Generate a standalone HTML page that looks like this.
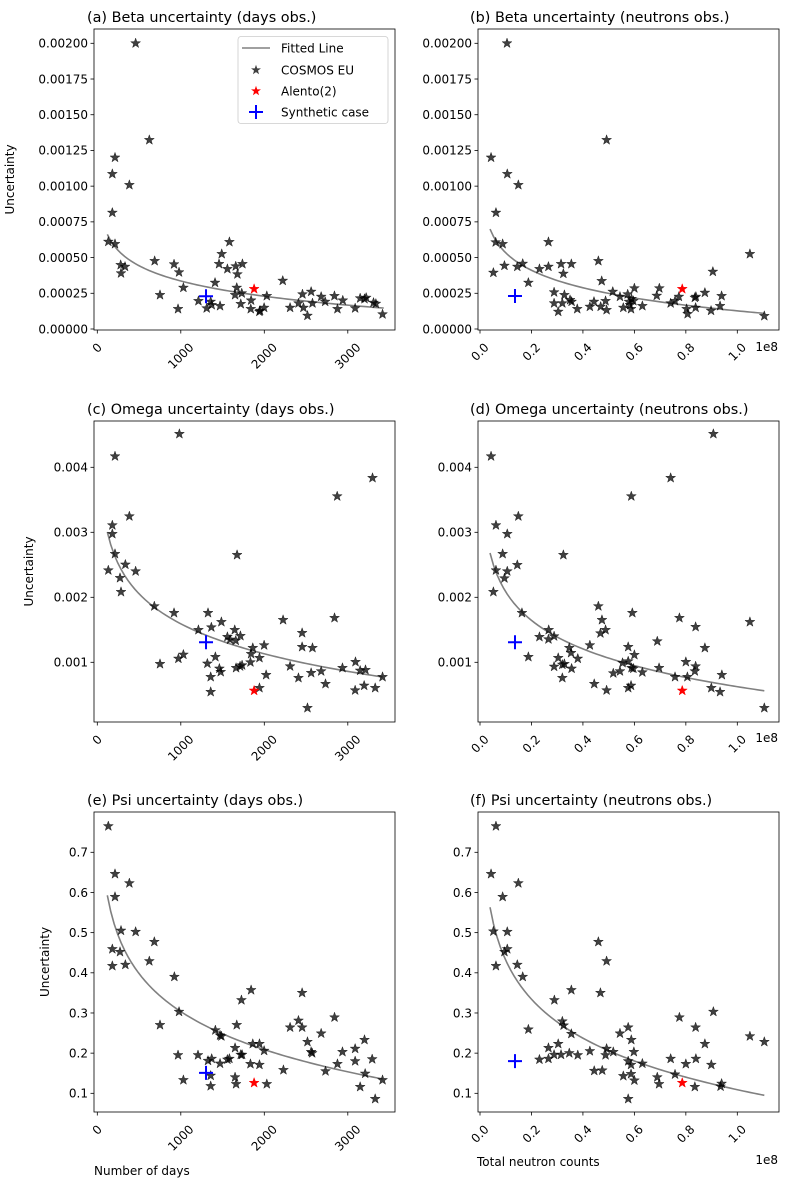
<!DOCTYPE html>
<html><head><meta charset="utf-8">
<style>
html,body{margin:0;padding:0;background:#fff;}
svg{display:block;font-family:"DejaVu Sans","Liberation Sans",sans-serif;}
</style></head>
<body>
<svg id="fig" width="799" height="1186" viewBox="0 0 799 1186"></svg>
<script>
// ---------- DATA ----------
const daysBetaX=[459,623,212,180,384,180,132,212,280,332,284,687,919,979,751,1031,967,1211,1310,1358,1370,1410,1470,1458,1490,1582,1558,1658,1678,1738,1670,1650,1730,1718,1842,1838,1941,1949,1998,2030,2221,2309,2409,2457,2469,2517,2561,2577,2681,2729,2840,2876,2940,3088,3148,3200,3220,3308,3336,3416];
const daysBetaY=[.002,.001323,.0012,.001085,.001008,.000814,.000611,.000595,.000448,.000436,.00039,.000476,.000453,.000397,.000238,.000289,.00014,.000196,.000145,.000191,.000168,.000324,.000161,.000455,.000525,.000609,.00042,.000439,.000383,.000455,.000289,.000238,.00025,.000175,.0002,.00014,.000121,.000128,.000149,.000231,.000338,.000149,.00018,.000243,.000149,.000093,.000261,.00018,.000226,.000191,.000231,.00014,.0002,.000145,.000215,.00021,.000219,.000184,.000177,.000103];
const neutBetaX=[.105,.492,.043,.106,.149,.062,.061,.088,.052,.095,.145,.166,.188,.231,.266,.266,.315,.324,.355,.288,.304,.288,.328,.320,.350,.356,.378,.427,.443,.460,.473,.469,.488,.492,.516,.544,.557,.574,.579,.583,.589,.587,.600,.596,.631,.687,.697,.741,.758,.773,.803,.807,.835,.839,.838,.874,.898,.905,.933,.939,1.049,1.105];
const neutBetaY=[.002,.001323,.0012,.001085,.001008,.000814,.000607,.000595,.000394,.000443,.000436,.000457,.000324,.00042,.000436,.000609,.000455,.000387,.000455,.000257,.000121,.00018,.000238,.00018,.000203,.000191,.00014,.000156,.000191,.000476,.000336,.000156,.000196,.000133,.000261,.000226,.000149,.000243,.000191,.000168,.00021,.00014,.000285,.000196,.000161,.000233,.000285,.00018,.000196,.000226,.00014,.000105,.000219,.000226,.000149,.000254,.000128,.000401,.000161,.000231,.000525,.000091];
const daysOmegaX=[983,212,3296,2873,384,180,180,212,1674,132,336,459,272,284,683,919,1326,1211,1366,1486,1646,1558,1590,1658,1714,2225,2841,2453,2453,2577,1862,1842,1998,1942,1834,1031,971,751,1318,1414,1462,1478,1358,1358,1662,1710,1734,2022,1942,2309,2409,2517,2561,2681,2733,2936,3092,3148,3212,3088,3196,3328,3416];
const daysOmegaY=[.004513,.004169,.003836,.003554,.003246,.003108,.002974,.002667,.002651,.002415,.002503,.0024,.002297,.002082,.001862,.001759,.001759,.001497,.001538,.00162,.001497,.00139,.001349,.001333,.001405,.001651,.001682,.001451,.001236,.001221,.001221,.001128,.001262,.001067,.001,.001118,.001056,.000974,.00098,.001082,.000903,.000851,.000774,.000544,.000913,.000938,.000954,.000805,.000605,.000938,.000759,.000297,.000836,.000862,.000667,.000913,.001005,.000872,.000882,.000569,.000641,.000605,.000774];
const neutOmegaX=[.907,.043,.741,.588,.149,.062,.106,.088,.324,.062,.106,.145,.095,.052,.163,.460,.474,.488,.468,.592,.775,.838,1.049,.267,.231,.266,.288,.427,.689,.576,.600,.874,.188,.347,.354,.380,.304,.288,.320,.328,.356,.320,.554,.576,.589,.596,.518,.544,.631,.696,.800,.838,.835,.758,.806,.940,.444,.492,.576,.587,.899,.933,1.105];
const neutOmegaY=[.004513,.004169,.003836,.003554,.003246,.003108,.002974,.002667,.002651,.002415,.0024,.002497,.002292,.002082,.001759,.001862,.001651,.001497,.001446,.001759,.001682,.001544,.00162,.001497,.00139,.001354,.0014,.001262,.001323,.001236,.001113,.001221,.001082,.001221,.001144,.001056,.001067,.000933,.000964,.000974,.000903,.000759,.00099,.001015,.000913,.000903,.000831,.000862,.000846,.000913,.001005,.000938,.000862,.000774,.000774,.000805,.000667,.000569,.000605,.000641,.000605,.000544,.000297];
const daysPsiX=[132,212,384,212,284,459,180,272,180,336,683,623,923,979,751,1842,1726,2453,1670,1414,1470,1486,1650,1718,1734,1862,1942,1998,1834,1942,967,1206,1326,1370,1470,1558,1582,1358,1358,1031,1650,1662,2030,2229,2309,2409,2453,2517,2561,2573,2681,2841,2733,2876,2936,3088,3200,3088,3292,3208,3148,3328,3416];
const daysPsiY=[.765,.646,.623,.589,.505,.502,.459,.452,.417,.42,.477,.429,.39,.303,.27,.357,.332,.35,.27,.257,.244,.242,.213,.196,.196,.223,.223,.206,.173,.171,.195,.195,.181,.186,.174,.184,.186,.144,.118,.133,.14,.123,.123,.158,.264,.281,.264,.228,.203,.2,.249,.289,.155,.173,.203,.211,.233,.18,.185,.149,.116,.086,.133];
const neutPsiX=[.062,.043,.149,.088,.052,.106,.062,.145,.106,.095,.166,.460,.492,.355,.289,.468,.320,.325,.355,.188,.266,.304,.288,.315,.347,.380,.231,.266,.427,.492,.488,.518,.544,.576,.588,.598,.576,.587,.631,.444,.475,.557,.587,.600,.576,.689,.696,.741,.758,.775,.838,.800,.839,.835,.874,.907,.899,.939,.935,1.049,1.105];
const neutPsiY=[.765,.646,.623,.589,.503,.502,.417,.42,.459,.452,.39,.477,.429,.357,.332,.35,.279,.269,.248,.259,.213,.223,.196,.196,.2,.195,.184,.186,.205,.211,.195,.203,.249,.264,.233,.203,.18,.171,.174,.156,.157,.143,.148,.132,.086,.14,.123,.186,.147,.289,.264,.173,.186,.116,.223,.303,.171,.124,.117,.242,.228];
// Alento(2) and synthetic case: [days, neutrons(1e8)]
const alentoX=[1878,0.786];
const alentoY=[0.00028,0.000564,0.126];
const synthX=[1302,0.136];
const synthY=[0.000229,0.001308,0.151,0.000231,0.001308,0.18];
// fitted line y = A + B*ln(x)
const fitA=[0.001400,0.000127,0.006193,0.000625,1.2464,0.109];
const fitB=[-0.000154,-0.0001765,-0.000666,-0.000634,-0.1365,-0.140];
const fitXmin=[120,0.039,120,0.039,120,0.039];
const fitXmax=[3430,1.105,3416,1.105,3416,1.105];
const titles=["(a) Beta uncertainty (days obs.)","(b) Beta uncertainty (neutrons obs.)","(c) Omega uncertainty (days obs.)","(d) Omega uncertainty (neutrons obs.)","(e) Psi uncertainty (days obs.)","(f) Psi uncertainty (neutrons obs.)"];
const daysTicks=[0,1000,2000,3000];
const neutTicks=[0,0.2,0.4,0.6,0.8,1.0];
const betaTicks=[0,0.00025,0.0005,0.00075,0.001,0.00125,0.0015,0.00175,0.002];
const omegaTicks=[0.001,0.002,0.003,0.004];
const psiTicks=[0.1,0.2,0.3,0.4,0.5,0.6,0.7];

// ---------- LAYOUT ----------
const NS="http://www.w3.org/2000/svg";
const svg=document.getElementById('fig');
function mk(tag,attrs,parent){const e=document.createElementNS(NS,tag);for(const k in attrs)e.setAttribute(k,attrs[k]);(parent||svg).appendChild(e);return e;}
const colL={l:94,r:395,x0:97.3,k:0.0835,xt:daysTicks,fmt:v=>String(v)};
const colR={l:478,r:779,x0:480,k:257.3,xt:neutTicks,fmt:v=>v.toFixed(1)};
const rows=[
 {t:29,b:330,y0:329,ref:0,k:142850,yt:betaTicks,fmt:v=>v.toFixed(5),off:21},
 {t:421,b:722,y0:467.3,ref:0.004,k:65000,yt:omegaTicks,fmt:v=>v.toFixed(3),off:20},
 {t:812,b:1112,y0:852.3,ref:0.7,k:401.7,yt:psiTicks,fmt:v=>v.toFixed(1),off:52}];
const series=[[daysBetaX,daysBetaY],[neutBetaX,neutBetaY],[daysOmegaX,daysOmegaY],[neutOmegaX,neutOmegaY],[daysPsiX,daysPsiY],[neutPsiX,neutPsiY]];
const names=['beta-days','beta-neutrons','omega-days','omega-neutrons','psi-days','psi-neutrons'];
const ylabX=[14,33,49];
function starPath(cx,cy,R){let d='';for(let i=0;i<10;i++){const r=i%2?R*0.4:R;const a=-Math.PI/2+i*Math.PI/5;d+=(i?'L':'M')+(cx+r*Math.cos(a)).toFixed(2)+' '+(cy+r*Math.sin(a)).toFixed(2);}return d+'Z';}

for(let p=0;p<6;p++){
  const col=p%2?colR:colL, row=rows[Math.floor(p/2)];
  const X=v=>col.x0+v*col.k;
  const Y=v=>row.y0-(v-row.ref)*row.k;
  const g=mk('g',{});
  
  
  const clipId='clip'+p;
  const cp=mk('clipPath',{id:clipId},g);mk('rect',{x:col.l,y:row.t,width:col.r-col.l,height:row.b-row.t},cp);
  const tt=mk('text',{x:p%2?470:87,y:row.t-7,'font-size':'14.4',fill:'#000'},g);tt.textContent=titles[p];
  
  
  row.yt.forEach(v=>{const y=Y(v);mk('line',{x1:col.l-3.5,x2:col.l,y1:y,y2:y,stroke:'#000','stroke-width':0.8},g);
    const t=mk('text',{x:col.l-6,y:y+4.3,'font-size':'12','text-anchor':'end'},g);t.textContent=row.fmt(v);
    
    });
  col.xt.forEach(v=>{const x=X(v);mk('line',{x1:x,x2:x,y1:row.b,y2:row.b+3.5,stroke:'#000','stroke-width':0.8},g);
    const t=mk('text',{'font-size':'12','text-anchor':'middle','dominant-baseline':'central'},g);t.textContent=col.fmt(v);
    
    
    const w=t.getComputedTextLength();const h=(w+12)*0.7071;
    t.setAttribute('transform','translate('+x+','+(row.b+11+h/2)+') rotate(-45)');});
  if(p%2){const e=mk('text',{x:778,y:row.b+row.off,'font-size':'12','text-anchor':'end'},g);e.textContent='1e8';
    
    }
  else{const yl=mk('text',{'font-size':'12','text-anchor':'middle',transform:'translate('+ylabX[p/2]+','+((row.t+row.b)/2)+') rotate(-90)'},g);yl.textContent='Uncertainty';
    
    }
  const pg=mk('g',{'clip-path':'url(#'+clipId+')'},g);
  let d='';for(let i=0;i<=80;i++){const xv=fitXmin[p]+(fitXmax[p]-fitXmin[p])*i/80;const yv=fitA[p]+fitB[p]*Math.log(xv);d+=(i?'L':'M')+X(xv).toFixed(2)+' '+Y(yv).toFixed(2);}
  const fl=mk('path',{d:d,fill:'none',stroke:'#808080','stroke-width':1.6},pg);
  
  
  const [xs,ys]=series[p];
  for(let i=0;i<xs.length;i++){const s=mk('path',{d:starPath(X(xs[i]),Y(ys[i]),5.2),fill:'#000','fill-opacity':0.75,stroke:'#000','stroke-opacity':0.75,'stroke-width':0.5},pg);
    
    }
  const rs=mk('path',{d:starPath(X(alentoX[p%2]),Y(alentoY[Math.floor(p/2)]),5.2),fill:'#f00',stroke:'#f00','stroke-width':0.5},pg);
  
  
  const bx=X(synthX[p%2]),by=Y(synthY[(p%2)*3+Math.floor(p/2)]);
  const sp=mk('path',{d:'M'+(bx-7)+' '+by+'H'+(bx+7)+'M'+bx+' '+(by-7)+'V'+(by+7),stroke:'#00f','stroke-width':2,fill:'none'},pg);
  
  
  const fr=mk('rect',{x:col.l,y:row.t,width:col.r-col.l,height:row.b-row.t,fill:'none',stroke:'#000','stroke-width':0.8},g);
  
  
}
const xl1=mk('text',{x:94,y:1175,'font-size':'12'});xl1.textContent='Number of days';


const xl2=mk('text',{x:477,y:1166,'font-size':'12'});xl2.textContent='Total neutron counts';


const lg=mk('g',{});


mk('rect',{x:238,y:36.5,width:150,height:87,rx:3,fill:'#fff','fill-opacity':0.8,stroke:'#ccc','stroke-width':0.8},lg);
mk('line',{x1:242,x2:270,y1:48,y2:48,stroke:'#808080','stroke-width':1.6},lg);
mk('path',{d:starPath(256,70,5.2),fill:'#000','fill-opacity':0.75},lg);
mk('path',{d:starPath(256,91,5.2),fill:'#f00'},lg);
mk('path',{d:'M249 112H263M256 105V119',stroke:'#00f','stroke-width':2},lg);
[['Fitted Line',48],['COSMOS EU',70],['Alento(2)',91],['Synthetic case',112]].forEach(a=>{const t=mk('text',{x:281,y:a[1]+4.3,'font-size':'12'},lg);t.textContent=a[0];
  
  });
</script>
</body></html>
